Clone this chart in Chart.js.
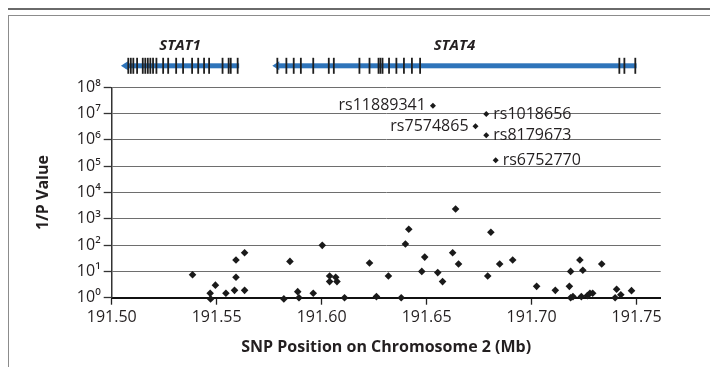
<!DOCTYPE html>
<html>
<head>
<meta charset="utf-8">
<script src="https://cdn.jsdelivr.net/npm/chart.js@4/dist/chart.umd.min.js"></script>
<style>
  html, body { margin: 0; padding: 0; background: #fff; }
  #wrap { position: relative; width: 710px; height: 367px; overflow: hidden; }
  #rule { position: absolute; left: 8px; right: 0; top: 8px; border-top: 2px solid #6a6a6a; }
  #frame { position: absolute; left: 8px; right: -6px; top: 15px; bottom: -6px; border: 1.5px solid #8c8c8c; }
  canvas { position: absolute; left: 0; top: 0; }
</style>
</head>
<body>
<div id="wrap">
  <div id="rule"></div>
  <div id="frame"></div>
  <canvas id="myChart" width="710" height="367"></canvas>
</div>
<script>
// axis ticks
const xTicks = [191.50, 191.55, 191.60, 191.65, 191.70, 191.75];
const yTicks = [1, 10, 100, 1e3, 1e4, 1e5, 1e6, 1e7, 1e8];
const superDigits = ['⁰', '¹', '²', '³', '⁴', '⁵', '⁶', '⁷', '⁸'];

// SNPs (position in Mb, 1/P)
const snpPos = [191.5385, 191.5469, 191.5471, 191.5494, 191.5544, 191.5585, 191.5592, 191.5592, 191.5633, 191.5633,
  191.5820, 191.5849, 191.5886, 191.5892, 191.5960, 191.6003, 191.6038, 191.6038, 191.6067, 191.6073,
  191.6109, 191.6228, 191.6261, 191.6318, 191.6379, 191.6399, 191.6415, 191.6477, 191.6491, 191.6553,
  191.6576, 191.6624, 191.6638, 191.6652, 191.6791, 191.6806, 191.6848, 191.6910, 191.7024, 191.7113,
  191.7180, 191.7186, 191.7186, 191.7197, 191.7230, 191.7244, 191.7237, 191.7266, 191.7278, 191.7291,
  191.7334, 191.7398, 191.7405, 191.7425, 191.7476];
const snpInvP = [7.5, 1.47, 0.9, 3.0, 1.47, 1.9, 27, 6, 51, 1.9,
  0.9, 24, 1.7, 1.0, 1.47, 98, 6.7, 4.1, 6, 4.1,
  1.0, 21, 1.1, 6.7, 1.0, 110, 400, 10, 35, 9,
  4.1, 51, 2350, 19, 6.7, 310, 19, 27, 2.7, 1.9,
  2.7, 10, 1.0, 1.1, 27, 11, 1.1, 1.2, 1.47, 1.47,
  19, 1.0, 2.1, 1.3, 1.85];

// named top hits
const hitNames = ['rs11889341', 'rs1018656', 'rs7574865', 'rs8179673', 'rs6752770'];
const hitPos = [191.6530, 191.6784, 191.6733, 191.6784, 191.6829];
const hitInvP = [2.0e7, 9.6e6, 3.3e6, 1.5e6, 1.7e5];
const hitSide = ['left', 'right', 'left', 'right', 'right'];

// genes (Mb), transcribed right to left
const geneNames = ['STAT1', 'STAT4'];
const geneStart = [191.5044, 191.5765];
const geneEnd = [191.5607, 191.7500];
const stat1Exons = [191.5079, 191.5091, 191.5103, 191.5121, 191.5148, 191.5160, 191.5172, 191.5184, 191.5197, 191.5213,
  191.5245, 191.5269, 191.5307, 191.5340, 191.5383, 191.5412, 191.5440, 191.5464, 191.5528, 191.5557,
  191.5567, 191.5600];
const stat4Exons = [191.5789, 191.5832, 191.5867, 191.5901, 191.5960, 191.6034, 191.6058, 191.6180, 191.6228, 191.6271,
  191.6280, 191.6290, 191.6321, 191.6356, 191.6392, 191.6430, 191.6469, 191.7418, 191.7442, 191.7494];
const geneExons = [stat1Exons, stat4Exons];

const FONT = "'Open Sans', sans-serif";
const INK = '#231f20';

function toPoints(xs, ys) {
  return xs.map(function(x, i) { return { x: x, y: ys[i] }; });
}

const geneTrack = {
  id: 'geneTrack',
  afterDraw(chart) {
    const ctx = chart.ctx;
    const xs = chart.scales.x;
    const yMid = chart.chartArea.top - 21.5;
    ctx.save();
    geneNames.forEach(function(name, g) {
      const x0 = xs.getPixelForValue(geneStart[g]);
      const x1 = xs.getPixelForValue(geneEnd[g]);
      ctx.fillStyle = '#2e74ba';
      ctx.fillRect(x0 + 4, yMid - 2.5, x1 - x0 - 4, 5);
      ctx.beginPath();
      ctx.moveTo(x0, yMid);
      ctx.lineTo(x0 + 7, yMid - 4.5);
      ctx.lineTo(x0 + 7, yMid + 4.5);
      ctx.closePath();
      ctx.fill();
      ctx.strokeStyle = '#1e1e1e';
      ctx.lineWidth = 1.8;
      geneExons[g].forEach(function(e) {
        const px = xs.getPixelForValue(e);
        ctx.beginPath();
        ctx.moveTo(px, yMid - 8);
        ctx.lineTo(px, yMid + 8);
        ctx.stroke();
      });
      ctx.fillStyle = INK;
      ctx.font = 'italic bold 15px ' + FONT;
      ctx.textAlign = 'center';
      ctx.textBaseline = 'middle';
      ctx.fillText(name, (x0 + x1) / 2, yMid - 20);
    });
    ctx.restore();
  }
};

const hitLabels = {
  id: 'hitLabels',
  afterDatasetsDraw(chart) {
    const ctx = chart.ctx;
    const meta = chart.getDatasetMeta(1);
    ctx.save();
    ctx.fillStyle = INK;
    ctx.font = '16px ' + FONT;
    ctx.textBaseline = 'middle';
    meta.data.forEach(function(pt, i) {
      if (hitSide[i] === 'left') {
        ctx.textAlign = 'right';
        ctx.fillText(hitNames[i], pt.x - 7, pt.y);
      } else {
        ctx.textAlign = 'left';
        ctx.fillText(hitNames[i], pt.x + 7, pt.y);
      }
    });
    ctx.restore();
  }
};

new Chart(document.getElementById('myChart'), {
  type: 'scatter',
  data: {
    datasets: [
      {
        data: toPoints(snpPos, snpInvP),
        pointStyle: 'rectRot',
        pointRadius: 3.8,
        pointBorderWidth: 0,
        backgroundColor: '#1a1a1a',
        clip: false
      },
      {
        data: toPoints(hitPos, hitInvP),
        pointStyle: 'rectRot',
        pointRadius: 3,
        pointBorderWidth: 0,
        backgroundColor: '#1a1a1a',
        clip: false
      }
    ]
  },
  options: {
    responsive: false,
    animation: false,
    layout: { padding: { left: 0, top: 87.3, right: 49.3, bottom: 0 } },
    plugins: { legend: { display: false }, tooltip: { enabled: false } },
    scales: {
      x: {
        type: 'linear',
        min: 191.50,
        max: 191.7615,
        afterBuildTicks: function(scale) {
          scale.ticks = xTicks.map(function(v) { return { value: v }; });
        },
        afterFit: function(scale) { scale.height = 69.3; },
        grid: { drawOnChartArea: false, drawTicks: true, tickLength: 7, tickColor: '#222', tickWidth: 1.3 },
        border: { color: '#111', width: 2 },
        ticks: {
          color: INK,
          padding: 3,
          font: { family: FONT, size: 16 },
          maxRotation: 0,
          callback: function(v) { return v.toFixed(2); }
        },
        title: {
          display: true,
          text: 'SNP Position on Chromosome 2 (Mb)',
          color: INK,
          font: { family: FONT, size: 16, weight: 'bold' },
          padding: { top: 0, bottom: 10.4 }
        }
      },
      y: {
        type: 'logarithmic',
        min: 1,
        max: 1e8,
        afterBuildTicks: function(scale) {
          scale.ticks = yTicks.map(function(v) { return { value: v }; });
        },
        afterFit: function(scale) { scale.width = 111.7; },
        grid: { color: '#6e6e6e', lineWidth: 1, tickLength: 8, tickColor: '#333', tickWidth: 1.3 },
        border: { color: '#333', width: 1.5 },
        ticks: {
          color: INK,
          padding: 3,
          font: { family: FONT, size: 16 },
          callback: function(v) { return '10' + superDigits[Math.round(Math.log10(v))]; }
        },
        title: {
          display: true,
          text: '1/P Value',
          color: INK,
          font: { family: FONT, size: 16, weight: 'bold' },
          padding: { top: 33.4, bottom: 0 }
        }
      }
    }
  },
  plugins: [geneTrack, hitLabels]
});
</script>
</body>
</html>
